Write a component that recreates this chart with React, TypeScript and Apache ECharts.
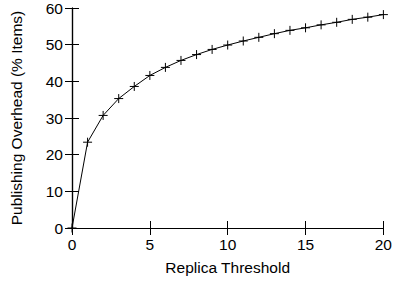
import React, { useEffect, useRef } from "react";
import * as echarts from "echarts";

const thresholds = [0, 1, 2, 3, 4, 5, 6, 7, 8, 9, 10, 11, 12, 13, 14, 15, 16, 17, 18, 19, 20];
const overhead = [0, 23.4, 30.7, 35.3, 38.6, 41.6, 43.8, 45.7, 47.3, 48.7, 49.9, 51.0, 52.0, 53.0, 53.9, 54.6, 55.4, 56.1, 56.9, 57.5, 58.2];
const xLabel = "Replica Threshold";
const yLabel = "Publishing Overhead (% Items)";

const FONT = "'Liberation Sans', Arial, Helvetica, sans-serif";

export default function App() {
  const ref = useRef<HTMLDivElement>(null);
  useEffect(() => {
    if (!ref.current) return;
    const chart = echarts.init(ref.current, undefined, { renderer: "svg" });
    const axisLine = { show: true, lineStyle: { color: "#000", width: 1.2 } };
    const tick = { show: true, inside: true, length: 7, lineStyle: { color: "#000", width: 1 } };
    chart.setOption({
      animation: false,
      backgroundColor: "#fff",
      grid: { left: 72, right: 11, top: 6, bottom: 54, containLabel: false },
      xAxis: [
        {
          type: "value",
          min: 0,
          max: 20,
          interval: 5,
          axisLine,
          axisTick: tick,
          splitLine: { show: false },
          axisLabel: { color: "#000", fontSize: 15.5, fontFamily: FONT, margin: 8 },
          name: xLabel,
          nameLocation: "middle",
          nameGap: 31,
          nameTextStyle: { color: "#000", fontSize: 15.5, fontFamily: FONT },
        },
        {
          type: "value",
          position: "top",
          min: 0,
          max: 20,
          interval: 5,
          axisLine,
          axisTick: tick,
          splitLine: { show: false },
          axisLabel: { show: false },
        },
      ],
      yAxis: [
        {
          type: "value",
          min: 0,
          max: 60,
          interval: 10,
          axisLine,
          axisTick: tick,
          splitLine: { show: false },
          axisLabel: { color: "#000", fontSize: 15.5, fontFamily: FONT, margin: 9 },
          name: yLabel,
          nameLocation: "middle",
          nameGap: 48,
          nameTextStyle: { color: "#000", fontSize: 15.5, fontFamily: FONT },
        },
        {
          type: "value",
          position: "right",
          min: 0,
          max: 60,
          interval: 10,
          axisLine,
          axisTick: tick,
          splitLine: { show: false },
          axisLabel: { show: false },
        },
      ],
      series: [
        {
          type: "line",
          data: thresholds.map((t, i) => [t, overhead[i]]),
          lineStyle: { color: "#000", width: 1 },
          symbol: "path://M0,5L10,5M5,0L5,10",
          symbolSize: 9,
          itemStyle: { color: "#000", borderColor: "#000", borderWidth: 1 },
          clip: false,
        },
      ],
    });
    return () => chart.dispose();
  }, []);
  return <div ref={ref} style={{ width: 395, height: 282, position: "absolute", left: 0, top: 0 }} />;
}
